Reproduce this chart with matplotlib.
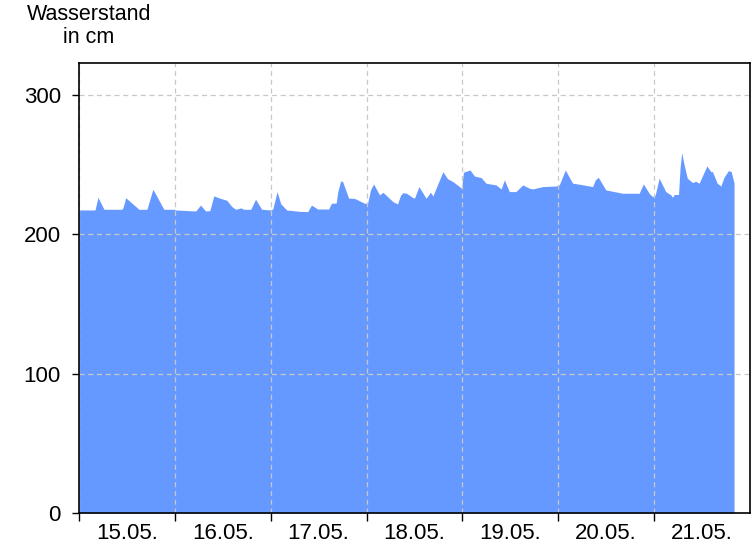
import matplotlib
matplotlib.use("Agg")
import matplotlib.pyplot as plt
import numpy as np

plt.rcParams['font.family'] = ['Liberation Sans', 'DejaVu Sans']

# hours since 15.05. 00:00 and water level in cm
hours = [0, 4, 4.75, 6.25, 10.7, 11, 11.7, 15, 17, 18.5, 21.25, 23.75, 24.25,
         27.5, 29.25, 30.4, 31.7, 32.75, 33.75, 35.25, 37, 38.25, 39.25, 40.5,
         41.25, 43, 44.2, 45.75, 47.9, 48.5, 49.6, 50.5, 52, 55.25, 57.25, 58.2,
         59.75, 62.5, 63.2, 64.4, 64.75, 65.5, 66, 67.5, 69, 71.5, 72.25, 73,
         73.75, 75.25, 76.1, 78.6, 79.75, 80.5, 81.1, 82, 83.5, 84, 85.1, 86.9,
         88, 88.6, 89.4, 91.1, 92.25, 93.6, 95.8, 96.25, 97.9, 99, 100.7, 101.9,
         104.4, 105.7, 106.5, 107.75, 109.4, 111.1, 112.75, 113.6, 116.1, 119.4,
         120.25, 121.75, 123.6, 125.25, 128.6, 129.25, 130, 131.9, 134, 136.1,
         140.25, 141.3, 142.75, 143.6, 144.25, 145.25, 146.9, 148.2, 148.6, 149,
         150.1, 150.5, 150.9, 151.5, 152.3, 153.6, 154.4, 155.25, 156.25, 157.2,
         158.2, 158.6, 159.8, 160.7, 161.5, 162.6, 163.3, 163.8, 164]
level = [217.5, 217.5, 226.6, 218, 218, 219, 226.3, 218, 218, 232.4, 218, 218, 217.5,
         217, 216.8, 221, 216.8, 217, 227.6, 226, 224.5, 220, 218, 219,
         218, 218, 225.2, 218, 217.5, 218, 230.7, 222, 217.5, 216.5, 216.3, 221,
         218.2, 218.2, 222.3, 222.5, 230, 238.3, 238, 226, 225.8, 222.3, 222.3, 232,
         236.2, 228.3, 230.2, 223.5, 221.8, 228, 229.9, 229.5, 226.5, 226, 234.3, 225.9,
         230.2, 227.5, 233.1, 245, 240, 237.9, 233.1, 244.6, 246.2, 241.9, 240.7, 236.7,
         235.5, 232.6, 239.1, 230.7, 230.7, 235.5, 233.1, 232.6, 234.3, 234.7,
         235.5, 246.2, 236.7, 236, 234.3, 239, 241, 231.9, 230.7, 229.5,
         229.5, 236.2, 229.5, 227.1, 228, 240.3, 230.7, 228.3, 226.6, 228.6,
         228.6, 248, 258.7, 250, 240.3, 237.2, 238.1, 236.7, 243, 249.1,
         245, 245, 236.7, 234.7, 241, 245.8, 245, 239.1, 237]

day_labels = ['15.05.', '16.05.', '17.05.', '18.05.', '19.05.', '20.05.', '21.05.']
y_ticks = [0, 100, 200, 300]

fig = plt.figure(figsize=(7.56, 5.46), dpi=100)
ax = fig.add_axes([79/756, 33/546, 671/756, 450/546])

ax.fill_between(hours, level, 0, color='#6699ff', linewidth=0, zorder=1)

ax.set_xlim(0, 168)
ax.set_ylim(0, 323)

day_starts = np.arange(len(day_labels)) * 24
ax.set_xticks(day_starts)
ax.set_xticklabels([])
ax.set_xticks(day_starts + 12, minor=True)
ax.set_xticklabels(day_labels, minor=True, fontsize=16)
ax.tick_params(axis='x', which='minor', length=0, pad=7)
ax.tick_params(axis='x', which='major', length=6, width=1, direction='out')
ax.set_yticks(y_ticks)
ax.set_yticklabels([str(v) for v in y_ticks], fontsize=16)
ax.tick_params(axis='y', length=5, width=1, direction='out', pad=8)

ax.grid(True, which='major', color='#c8c8c8', linestyle=(0, (4, 3)), linewidth=0.9, zorder=2)
ax.set_axisbelow(False)
for s in ax.spines.values():
    s.set_linewidth(1.2)
    s.set_zorder(3)

fig.text(89/756, 1 - 4/546, 'Wasserstand\nin cm', ha='center', va='top',
         fontsize=15.5, linespacing=1.15)

plt.savefig('out.png', dpi=100)
